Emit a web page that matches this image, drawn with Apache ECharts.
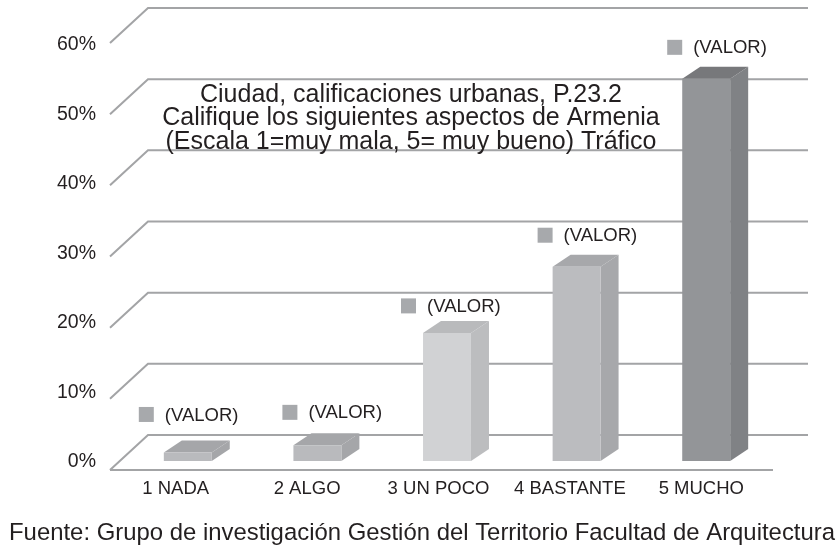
<!DOCTYPE html>
<html>
<head>
<meta charset="utf-8">
<style>html,body{margin:0;padding:0;background:#fff}#c{width:838px;height:545px}</style>
<script src="https://cdn.jsdelivr.net/npm/echarts@6/dist/echarts.min.js"></script>
</head>
<body>
<div id="c"></div>
<script>
var categories = ['1 NADA', '2 ALGO', '3 UN POCO', '4 BASTANTE', '5 MUCHO'];
var values = [1.2, 2.2, 18.0, 27.3, 53.7];
var wallTicks = [0, 10, 20, 30, 40, 50, 60];
var frontColors = ['#b9babd', '#b9babd', '#d1d2d4', '#bbbcbf', '#939598'];
var topColors = ['#a5a6a9', '#a5a6a9', '#b9babc', '#a7a8ab', '#77787b'];
var sideColors = ['#a5a6a9', '#a5a6a9', '#bcbdbf', '#a7a8ab', '#808285'];
var labelShiftX = [-49, -35, -46, -39, -39];
var labelShiftY = [-38, -33, -27, -31.5, -31.5];
var dataLabel = '(VALOR)';
var titleText = 'Ciudad, calificaciones urbanas, P.23.2\nCalifique los siguientes aspectos de Armenia\n(Escala 1=muy mala, 5= muy bueno) Tráfico';
var sourceText = 'Fuente: Grupo de investigación Gestión del Territorio Facultad de Arquitectura';

var FONT = '"Liberation Sans", Arial, sans-serif';
var TEXT = '#231f20', LINE = '#a3a4a6';

function renderWall(params, api) {
  var cs = params.coordSys;
  var v = api.value(1);
  var y = api.coord([0, v])[1];
  var x0 = cs.x;
  var children = [{
    type: 'polyline',
    shape: { points: [[x0, y], [x0 + 38, y - 35], [x0 + 698, y - 35]] },
    style: { fill: null, stroke: LINE, lineWidth: 2 }
  }];
  if (v === 0) {
    children.push({
      type: 'line',
      shape: { x1: x0, y1: y, x2: x0 + 663, y2: y },
      style: { stroke: LINE, lineWidth: 2 }
    });
  }
  return { type: 'group', children: children };
}

function renderBar(params, api) {
  var i = api.value(0);
  var top = api.coord([i, api.value(1)]);
  var base = api.coord([i, 0]);
  var w = api.size([1, 0])[0] * 0.37;
  var dx = 18, dy = -12;
  var cx = top[0] + 13;
  var l = cx - w / 2, r = cx + w / 2;
  var yT = top[1] - 9, yB = base[1] - 9;
  var lx = cx + labelShiftX[i], ly = yT + labelShiftY[i];
  return {
    type: 'group',
    children: [
      { type: 'polygon', shape: { points: [[r, yT], [r + dx, yT + dy], [r + dx, yB + dy], [r, yB]] }, style: { fill: sideColors[i] } },
      { type: 'polygon', shape: { points: [[l, yT], [l + dx, yT + dy], [r + dx, yT + dy], [r, yT]] }, style: { fill: topColors[i] } },
      { type: 'rect', shape: { x: l, y: yT, width: w, height: yB - yT }, style: { fill: frontColors[i] } },
      { type: 'rect', shape: { x: lx, y: ly - 7.5, width: 15, height: 15 }, style: { fill: '#a7a9ac' } },
      { type: 'text', style: { x: lx + 26, y: ly + 1, text: dataLabel, fill: TEXT, font: '18.5px ' + FONT, textAlign: 'left', textVerticalAlign: 'middle' } }
    ]
  };
}

var chart = echarts.init(document.getElementById('c'), null, { renderer: 'canvas' });
chart.setOption({
  animation: false,
  backgroundColor: '#fff',
  title: [
    { text: titleText, left: 406, top: 78, textAlign: 'center',
      textStyle: { fontFamily: FONT, fontSize: 25, fontWeight: 'normal', color: TEXT, lineHeight: 23.5 } },
    { text: sourceText, left: 4, top: 516,
      textStyle: { fontFamily: FONT, fontSize: 23.9, fontWeight: 'normal', color: TEXT } }
  ],
  grid: [
    { left: 110, top: 43, width: 648, height: 427 },
    { left: 110, top: 45, width: 657, height: 417 }
  ],
  xAxis: [
    { type: 'category', gridIndex: 0, data: categories, show: false },
    { type: 'category', gridIndex: 1, data: categories,
      axisLine: { show: false }, axisTick: { show: false },
      axisLabel: { margin: 17, interval: 0, fontFamily: FONT, fontSize: 18.5, color: TEXT } }
  ],
  yAxis: [
    { type: 'value', gridIndex: 0, min: 0, max: 60, interval: 10, show: false },
    { type: 'value', gridIndex: 1, min: 0, max: 60, interval: 10,
      axisLine: { show: false }, axisTick: { show: false }, splitLine: { show: false },
      axisLabel: { margin: 14, formatter: '{value}%', fontFamily: FONT, fontSize: 19.5, color: TEXT } }
  ],
  series: [
    { type: 'custom', xAxisIndex: 0, yAxisIndex: 0, clip: false, silent: true, z: 1,
      renderItem: renderWall, encode: { x: 0, y: 1 },
      data: wallTicks.map(function (t) { return [0, t]; }) },
    { type: 'custom', xAxisIndex: 0, yAxisIndex: 0, clip: false, silent: true, z: 2,
      renderItem: renderBar, encode: { x: 0, y: 1 },
      data: values.map(function (v, i) { return [i, v]; }) }
  ]
});
</script>
</body>
</html>
